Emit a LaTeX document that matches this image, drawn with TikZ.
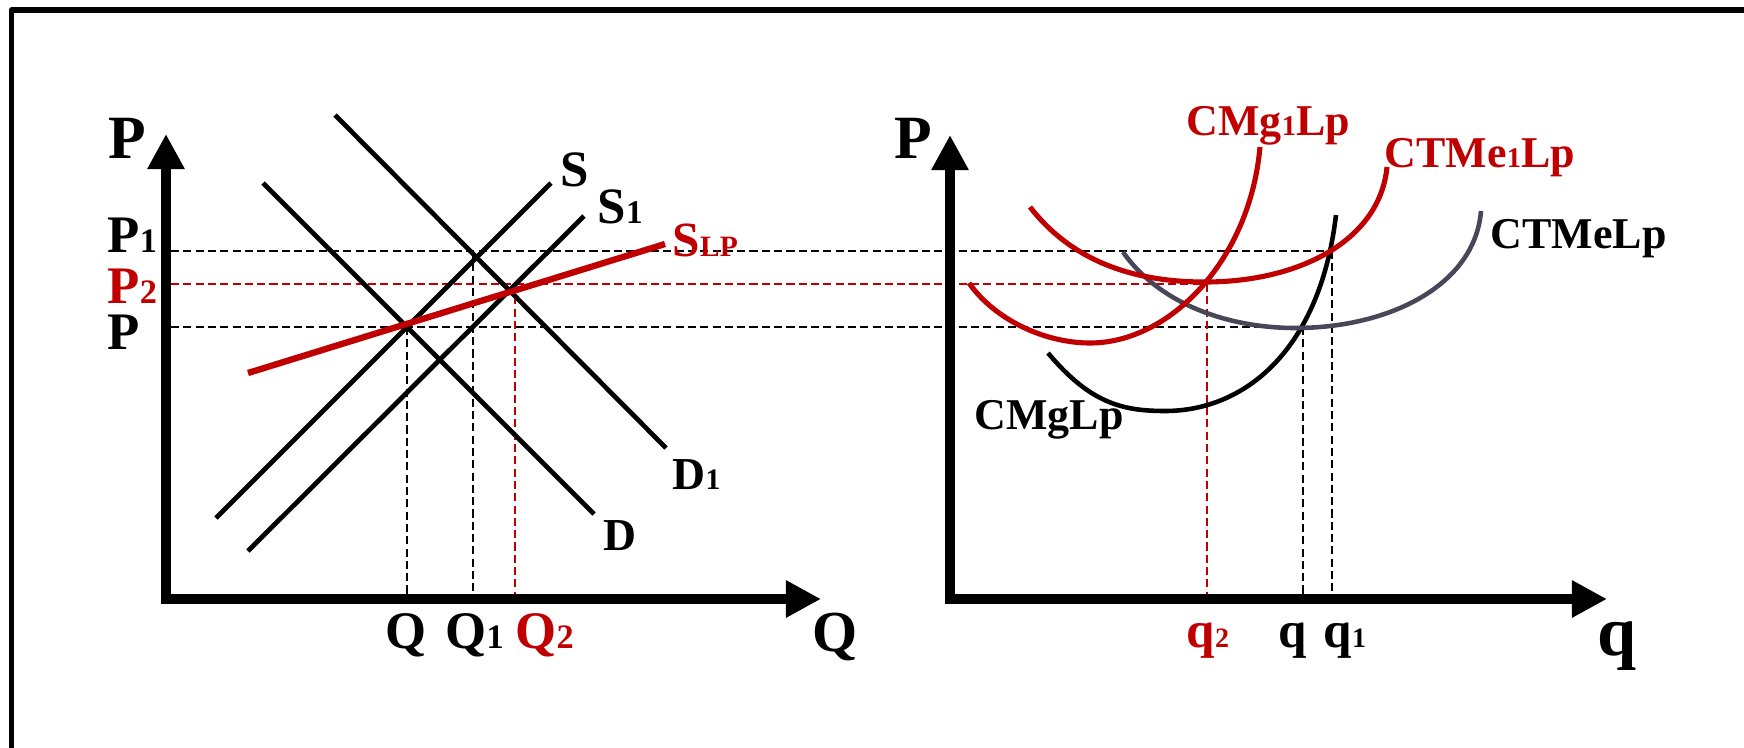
\documentclass[tikz,border=0pt]{standalone}
\usepackage{fontspec}
\setmainfont{Liberation Serif}
\usetikzlibrary{arrows.meta}
\definecolor{ecored}{HTML}{C00000}
\definecolor{ctgray}{HTML}{474759}
\newcommand\lo[1]{\scalebox{0.65}{#1}}
\newcommand\fs[1]{\fontsize{#1}{#1}\selectfont}

\begin{document}
\begin{tikzpicture}[x=0.01cm,y=-0.01cm,line join=round,
  axis/.style={line width=3.1pt,-{Triangle[length=10pt,width=10pt]}},
  guide/.style={line width=0.55pt,dash pattern=on 2.3pt off 1.2pt},
  market/.style={line width=1.35pt},
  firm/.style={line width=1.3pt},
  lbl/.style={inner sep=0pt,anchor=base west,font=\bfseries\fs{15}},
  tight/.style={text height=10pt,text depth=0pt}]
  \useasboundingbox (0,0) rectangle (1744,748);
  \draw[line width=1.45pt] (11.5,748) -- (11.5,10) -- (1744,10);
  % guide lines
  \draw[guide] (171,251) -- (1332,251);
  \draw[guide,ecored] (171,284) -- (1207,284);
  \draw[guide] (171,327) -- (1303,327);
  \draw[guide] (407,327) -- (407,594);
  \draw[guide] (473,251) -- (473,594);
  \draw[guide,ecored] (515,284) -- (515,594);
  \draw[guide,ecored] (1207,284) -- (1207,594);
  \draw[guide] (1303,327) -- (1303,594);
  \draw[guide] (1332,251) -- (1332,594);
  % market
  \draw[market] (263,183) -- (594,514);
  \draw[market] (335,115) -- (666,448);
  \draw[market] (216,518) -- (551,183);
  \draw[market] (248,551) -- (584,216);
  \draw[line width=1.8pt,ecored] (248,373) -- (665,244);
  % firm
  \draw[firm] (1048,353) .. controls (1090,403) and (1122,411) .. (1165,411)
    .. controls (1245,411) and (1320,350) .. (1336,215);
  \draw[firm,ctgray] (1123,252) .. controls (1160,305) and (1230,328) .. (1295,328)
    .. controls (1390,328) and (1475,285) .. (1481,211);
  \draw[firm,ecored,line width=1.45pt] (1030,207) .. controls (1075,265) and (1140,282) .. (1205,282)
    .. controls (1300,282) and (1380,240) .. (1387,167);
  \draw[firm,ecored,line width=1.45pt] (969,283) .. controls (995,320) and (1045,343) .. (1090,343)
    .. controls (1170,343) and (1250,260) .. (1260,147);
  % axes
  \draw[axis] (166,604) -- (166,134);
  \draw[axis] (166,599) -- (821,599);
  \draw[axis] (950,604) -- (950,135);
  \draw[axis] (950,599) -- (1607,599);
  % labels market
  \node[lbl,font=\bfseries\fs{17.5}] (pa) at (108,158) {P};
  \node[lbl,tight] (p1) at (107,252) {P\lo{1}};
  \node[lbl,tight,ecored] (p2) at (107,303) {P\lo{2}};
  \node[lbl,tight] (p0) at (107,349) {P};
  \node[lbl,font=\bfseries\fs{16.5}] (qa) at (812,651) {Q};
  \node[lbl] (q0) at (385,648) {Q};
  \node[lbl] (q1) at (445,648) {Q\lo{1}};
  \node[lbl,ecored] (q2) at (515,648) {Q\lo{2}};
  \node[lbl,font=\bfseries\fs{14.5}] (s0) at (560,186) {S};
  \node[lbl,font=\bfseries\fs{14.5}] (s1) at (597,223) {S\lo{1}};
  \node[lbl,ecored,font=\bfseries\fs{14}] (slp) at (672,256) {S\scalebox{0.6}{LP}};
  \node[lbl,font=\bfseries\fs{13}] (d1) at (672,489) {D\lo{1}};
  \node[lbl,font=\bfseries\fs{13}] (d0) at (603,550) {D};
  % labels firm
  \node[lbl,font=\bfseries\fs{17.5}] (pb) at (894,158) {P};
  \node[lbl,ecored,font=\bfseries\fs{12.5}] (cmg1) at (1186,135.5) {CMg\lo{1}Lp};
  \node[lbl,ecored,font=\bfseries\fs{12.5}] (ctme1) at (1384,167) {CTMe\lo{1}Lp};
  \node[lbl,font=\bfseries\fs{12.5}] (ctme) at (1490,248) {CTMeLp};
  \node[lbl,font=\bfseries\fs{12.5}] (cmg) at (974,429) {CMgLp};
  \node[lbl,ecored,font=\bfseries\fs{14.5}] (qq2) at (1186,647.5) {q\scalebox{0.55}{2}};
  \node[lbl,font=\bfseries\fs{14.5}] (qq0) at (1278,647.5) {q};
  \node[lbl,font=\bfseries\fs{14.5}] (qq1) at (1323,647.5) {q\scalebox{0.55}{1}};
  \node[lbl,font=\bfseries\fs{20}] (qb) at (1597,655) {q};
\end{tikzpicture}
\end{document}
